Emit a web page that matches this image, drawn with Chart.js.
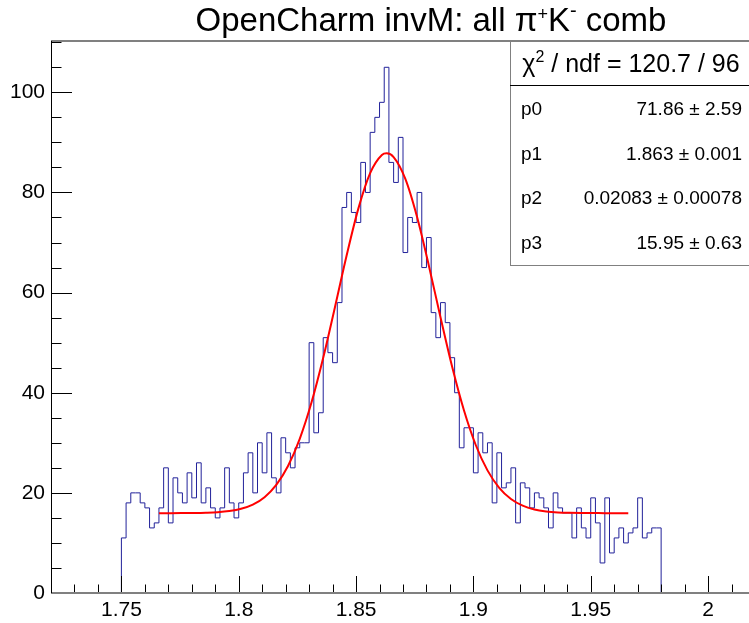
<!DOCTYPE html>
<html>
<head>
<meta charset="utf-8">
<script src="https://cdn.jsdelivr.net/npm/chart.js@4"></script>
<style>
  html, body { margin: 0; padding: 0; background: #fff; overflow: hidden; }
</style>
</head>
<body>
<canvas id="invm" width="756" height="623"></canvas>
<script>
// histogram, 0.002 wide bins starting at 1.75
const binLow = 1.75
const binWidth = 0.002
const counts = [
  11, 18, 20, 20, 18, 17, 13, 14, 17, 25,
  14, 23, 20, 18, 24, 19, 26, 18, 21, 17,
  15, 17, 25, 18, 15, 18, 24, 28, 20, 30,
  24, 32, 23, 20, 31, 28, 25, 29, 30, 30,
  50, 32, 36, 51, 48, 46, 58, 77, 80, 76,
  74, 86, 80, 92, 95, 98, 105, 86, 82, 91,
  68, 75, 74, 80, 65, 71, 56, 51, 58, 54,
  47, 40, 29, 33, 33, 24, 32, 28, 30, 18,
  28, 21, 22, 25, 14, 22, 21, 17, 20, 19,
  17, 13, 20, 17, 16, 16, 11, 17, 13, 11,
  19, 14, 6, 19, 8, 11, 13, 10, 12, 13,
  19, 11, 12, 13, 13
]

// red fit line
const fitX = [1.766, 1.771, 1.776, 1.781, 1.786, 1.791, 1.796, 1.801, 1.806, 1.811,
  1.816, 1.821, 1.826, 1.831, 1.836, 1.841, 1.846, 1.851, 1.856, 1.861, 1.863,
  1.866, 1.871, 1.876, 1.881, 1.886, 1.891, 1.896, 1.901, 1.906, 1.911,
  1.916, 1.921, 1.926, 1.931, 1.936, 1.941, 1.946, 1.951, 1.956, 1.961, 1.966]
const fitY = [15.95, 15.95, 15.96, 15.98, 16.03, 16.13, 16.36, 16.81, 17.65, 19.14,
  21.59, 25.36, 30.79, 38.03, 46.97, 57.09, 67.46, 76.82, 83.86, 87.48, 87.81,
  87.07, 82.70, 75.09, 65.42, 55.01, 45.07, 36.44, 29.56, 24.49, 21.00,
  18.77, 17.44, 16.69, 16.30, 16.10, 16.01, 15.97, 15.96, 15.95, 15.95, 15.95]

// axes
const xTicks = [1.75, 1.8, 1.85, 1.9, 1.95, 2]
const xTickLabels = ['1.75', '1.8', '1.85', '1.9', '1.95', '2']
const yTicks = [0, 20, 40, 60, 80, 100]

// stats box
const chiText = '120.7 / 96'
const parNames = ['p0', 'p1', 'p2', 'p3']
const parValues = ['71.86', '1.863', '0.02083', '15.95']
const parErrors = ['2.59', '0.001', '0.00078', '0.63']

const FONT = '"Liberation Sans", Arial, Helvetica, sans-serif'

const histPoints = [{ x: binLow, y: 0 }]
counts.forEach((c, i) => histPoints.push({ x: binLow + binWidth * i, y: c }))
histPoints.push({ x: binLow + binWidth * counts.length, y: 0 })

const fitPoints = fitX.map((v, i) => ({ x: v, y: fitY[i] }))

function line(ctx, x1, y1, x2, y2) {
  ctx.beginPath(); ctx.moveTo(x1, y1); ctx.lineTo(x2, y2); ctx.stroke()
}

// draws text made of pieces [text, fontSize, raise]
function drawPieces(ctx, pieces, x, y, align) {
  let w = 0
  pieces.forEach(p => { ctx.font = p[1] + 'px ' + FONT; w += ctx.measureText(p[0]).width })
  let cx = align === 'center' ? x - w / 2 : x
  ctx.textAlign = 'left'
  pieces.forEach(p => {
    ctx.font = p[1] + 'px ' + FONT
    ctx.fillText(p[0], cx, y - p[2])
    cx += ctx.measureText(p[0]).width
  })
}

const rootFrame = {
  id: 'rootFrame',
  afterDraw(chart) {
    const { ctx, chartArea: a, scales: { x, y } } = chart
    ctx.save()
    ctx.fillStyle = '#000'
    ctx.strokeStyle = '#000'
    ctx.lineWidth = 1

    // x ticks, every 0.01, big ones every 0.05
    for (let k = 172; k <= 202; k++) {
      const px = Math.round(x.getPixelForValue(k / 100)) + 0.5
      const len = k % 5 === 0 ? 17 : 8.5
      line(ctx, px, a.bottom, px, a.bottom - len)
    }
    // y ticks, every 5, big ones every 20
    for (let v = 0; v <= 110; v += 5) {
      const py = Math.round(y.getPixelForValue(v)) + 0.5
      const len = v % 20 === 0 ? 21 : 10.5
      line(ctx, a.left, py, a.left + len, py)
    }

    // frame
    ctx.strokeStyle = '#808080'
    ctx.lineWidth = 2
    line(ctx, a.left, a.top, a.right, a.top)
    line(ctx, a.left, a.bottom, a.right, a.bottom)
    ctx.strokeStyle = '#000'
    ctx.lineWidth = 1
    line(ctx, a.left + 0.5, a.top, a.left + 0.5, a.bottom)

    // tick labels
    ctx.font = '21px ' + FONT
    ctx.textAlign = 'center'
    ctx.textBaseline = 'middle'
    xTicks.forEach((v, i) => ctx.fillText(xTickLabels[i], x.getPixelForValue(v), 610))
    ctx.textAlign = 'right'
    yTicks.forEach(v => ctx.fillText(String(v), a.left - 6, y.getPixelForValue(v)))

    // title
    ctx.textBaseline = 'alphabetic'
    drawPieces(ctx, [['OpenCharm invM: all π', 33, 0], ['+', 18, 11], ['K', 33, 0], ['-', 20, 14], [' comb', 33, 0]], 431, 31, 'center')

    // stats box
    const bx = 510, by = 41, bw = 260, bh = 224
    ctx.fillStyle = '#fff'
    ctx.fillRect(bx, by, bw, bh)
    ctx.strokeStyle = '#808080'
    ctx.strokeRect(bx + 0.5, by + 0.5, bw, bh)
    ctx.strokeStyle = '#000'
    line(ctx, bx, 85.5, bx + bw, 85.5)
    ctx.fillStyle = '#000'
    drawPieces(ctx, [['χ', 25, 0], ['2', 16, 10], [' / ndf = ' + chiText, 25, 0]], 631, 72, 'center')
    ctx.font = '19px ' + FONT
    parNames.forEach((n, i) => {
      const ty = 115 + i * 44.5
      ctx.textAlign = 'left'
      ctx.fillText(n, 521, ty)
      ctx.textAlign = 'right'
      ctx.fillText(parValues[i] + ' ± ' + parErrors[i], 742, ty)
    })
    ctx.restore()
  }
}

new Chart(document.getElementById('invm'), {
  type: 'line',
  data: {
    datasets: [
      {
        data: fitPoints,
        borderColor: '#ff0000',
        borderWidth: 2,
        pointRadius: 0,
        cubicInterpolationMode: 'monotone',
        fill: false,
        order: 0
      },
      {
        data: histPoints,
        borderColor: '#22229a',
        borderWidth: 1,
        pointRadius: 0,
        stepped: true,
        fill: false,
        order: 1
      }
    ]
  },
  options: {
    responsive: false,
    animation: false,
    layout: { padding: { left: 51, top: 41, right: 1, bottom: 30 } },
    plugins: { legend: { display: false }, tooltip: { enabled: false } },
    scales: {
      x: { type: 'linear', min: 1.72, max: 2.02, display: false },
      y: { min: 0, max: 110.25, display: false }
    }
  },
  plugins: [rootFrame]
})
</script>
</body>
</html>
